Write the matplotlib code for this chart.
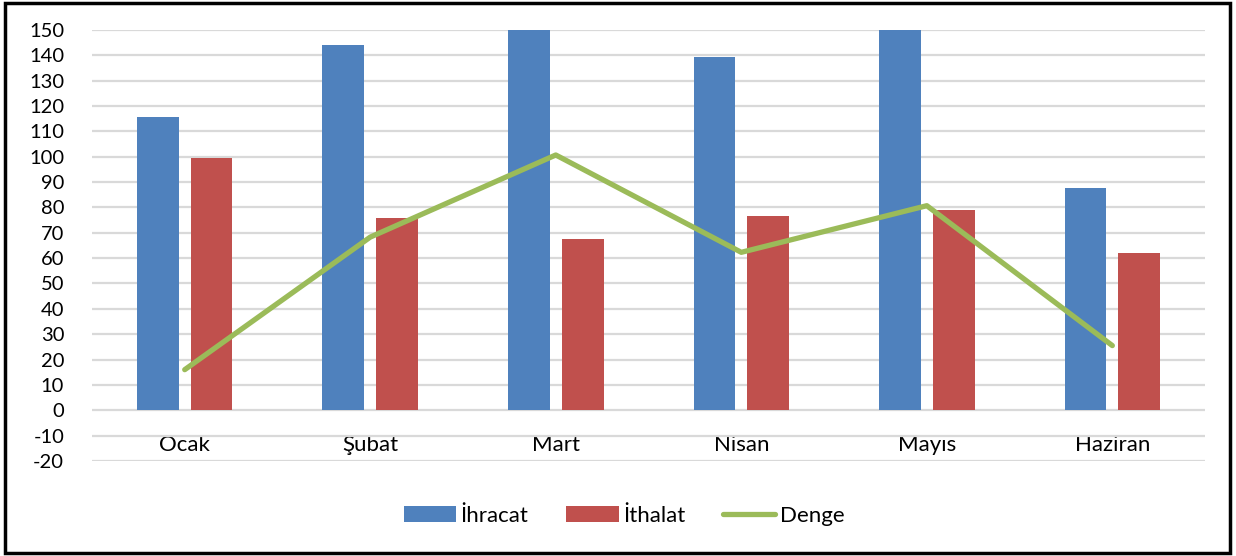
import matplotlib.pyplot as plt
from matplotlib.patches import Rectangle
import numpy as np

plt.rcParams['font.family'] = ['Lato', 'DejaVu Sans']
plt.rcParams['axes.unicode_minus'] = False

months = ["Ocak", "Şubat", "Mart", "Nisan", "Mayıs", "Haziran"]
ihracat = [115.7, 144.0, 168.0, 139.2, 160.0, 87.8]
ithalat = [99.5, 76.0, 67.5, 76.7, 79.0, 62.0]
denge = [16.0, 68.3, 100.7, 62.3, 80.7, 25.5]

blue = "#4F81BD"
red = "#C0504D"
green = "#9BBB59"

fig = plt.figure(figsize=(12.36, 5.56), dpi=100)
ax = fig.add_axes([0.0744, 0.171, 0.9006, 0.775])

x = np.arange(len(months))
w = 0.225
b1 = ax.bar(x - 0.145, ihracat, w, color=blue, label="İhracat", zorder=2)
b2 = ax.bar(x + 0.145, ithalat, w, color=red, label="İthalat", zorder=2)
l1, = ax.plot(x, denge, color=green, lw=3.8, label="Denge", zorder=3, solid_capstyle="round")

ax.set_xlim(-0.5, 5.5)
ax.set_ylim(-20, 150)
ax.set_yticks(range(-20, 151, 10))
ax.grid(axis="y", color="#d9d9d9", lw=1.6, zorder=0)
ax.set_axisbelow(True)

for s in ["top", "right", "left"]:
    ax.spines[s].set_visible(False)
ax.spines["bottom"].set_position(("data", 0))
ax.spines["bottom"].set_visible(False)

ax.set_xticks(x)
ax.set_xticklabels(months, fontsize=16)
ax.tick_params(axis="x", length=0, pad=18)
ax.tick_params(axis="y", length=0, pad=20, labelsize=14.5)

ax.legend([b1, b2, l1], ["İhracat", "İthalat", "Denge"], loc="center",
          bbox_to_anchor=(0.505, 0.072), bbox_transform=fig.transFigure,
          ncol=3, frameon=False, fontsize=16, handlelength=2.35,
          handleheight=0.7, columnspacing=1.7, handletextpad=0.2)

fig.patches.append(Rectangle((0.004, 0.006), 0.991, 0.989, transform=fig.transFigure,
                             fill=False, ec="black", lw=2.5))

fig.savefig("out.png", dpi=100)
